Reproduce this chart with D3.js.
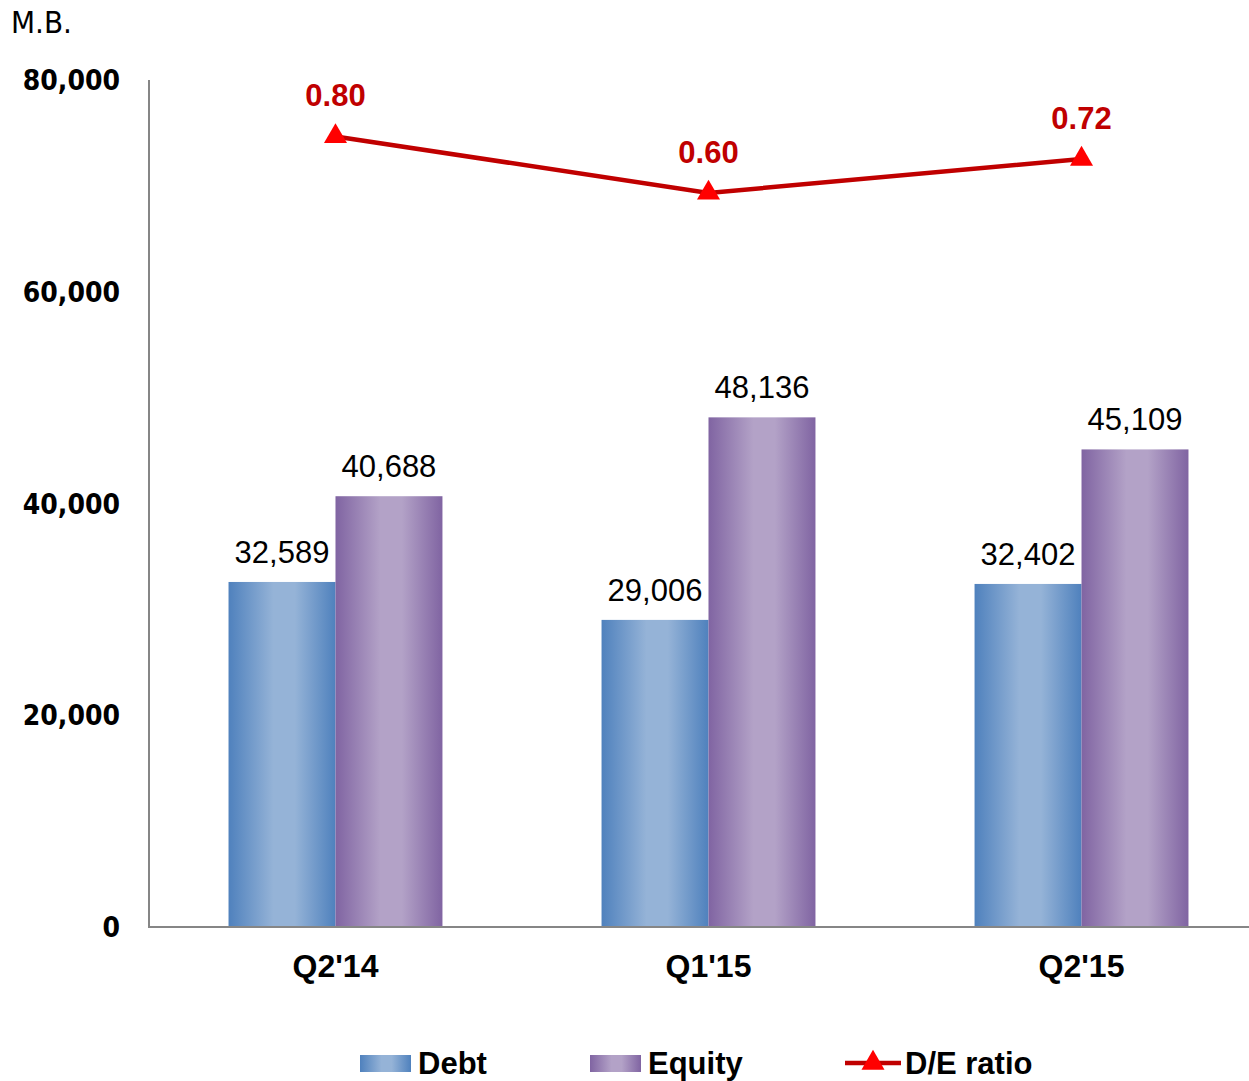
<!DOCTYPE html>
<html>
<head>
<meta charset="utf-8">
<script src="https://cdn.jsdelivr.net/npm/d3@7"></script>
<style>
  html, body { margin: 0; padding: 0; background: #fff; }
  svg { display: block; }
</style>
</head>
<body>
<svg id="chart" width="1249" height="1081"></svg>
<script>
// Quarterly debt, equity (million baht) and debt-to-equity ratio
const categories = ["Q2'14", "Q1'15", "Q2'15"];
const debt = [32589, 29006, 32402];
const equity = [40688, 48136, 45109];
const deRatio = [0.80, 0.60, 0.72];
const yTicks = [0, 20000, 40000, 60000, 80000];
const seriesNames = ["Debt", "Equity", "D/E ratio"];

const svg = d3.select("#chart");
const plot = { left: 149, top: 80, bottom: 927, step: 373 };
const condensed = "'DejaVu Sans Condensed', Tahoma, 'DejaVu Sans', sans-serif";
const arial = "'Liberation Sans', Arial, sans-serif";

const x = d3.scaleBand()
  .domain(categories)
  .range([plot.left, plot.left + plot.step * categories.length])
  .paddingInner(0.4265)
  .paddingOuter(0.2132);

const xSeries = d3.scaleBand()
  .domain(["Debt", "Equity"])
  .range([0, x.bandwidth()]);

const y = d3.scaleLinear().domain([0, 80000]).range([plot.bottom, plot.top]);
// secondary (hidden) axis for the ratio line
const y2 = d3.scaleLinear().domain([-2, 1]).range([plot.bottom, plot.top]);

// horizontal bar gradients: dark edges, light centre
const defs = svg.append("defs");
function gradient(id, dark, light) {
  const g = defs.append("linearGradient").attr("id", id)
    .attr("x1", "0%").attr("x2", "100%").attr("y1", "0%").attr("y2", "0%");
  [[0, dark], [0.42, light], [0.62, light], [1, dark]].forEach(([o, c]) =>
    g.append("stop").attr("offset", o).attr("stop-color", c));
}
gradient("gDebt", "#4f81bd", "#95b3d7");
gradient("gEquity", "#8064a2", "#b3a2c7");
const fills = { Debt: "url(#gDebt)", Equity: "url(#gEquity)" };

// y axis labels
svg.append("g").selectAll("text").data(yTicks).join("text")
  .attr("x", 120).attr("y", d => y(d))
  .attr("dy", "0.36em")
  .attr("text-anchor", "end")
  .attr("font-family", condensed)
  .attr("font-weight", "bold")
  .attr("font-size", 28)
  .attr("fill", "#000")
  .text(d => d3.format(",")(d));

// unit label
svg.append("text").attr("x", 11).attr("y", 33)
  .attr("font-family", condensed)
  .attr("font-size", 31).attr("fill", "#000").text("M.B.");

// bars
const groups = svg.append("g").selectAll("g").data(categories).join("g")
  .attr("transform", d => `translate(${x(d)},0)`);

const barData = (c, i) => [
  { key: "Debt", value: debt[i] },
  { key: "Equity", value: equity[i] }
];

groups.selectAll("rect").data(barData).join("rect")
  .attr("x", d => xSeries(d.key))
  .attr("width", xSeries.bandwidth())
  .attr("y", d => y(d.value))
  .attr("height", d => plot.bottom - y(d.value))
  .attr("fill", d => fills[d.key]);

groups.selectAll("text.val").data(barData).join("text")
  .attr("class", "val")
  .attr("x", d => xSeries(d.key) + xSeries.bandwidth() / 2)
  .attr("y", d => y(d.value) - 19)
  .attr("text-anchor", "middle")
  .attr("font-family", arial)
  .attr("font-size", 31)
  .attr("fill", "#000")
  .text(d => d3.format(",")(d.value));

// axes lines
svg.append("line")
  .attr("x1", plot.left).attr("x2", plot.left)
  .attr("y1", plot.top).attr("y2", plot.bottom + 1)
  .attr("stroke", "#868686").attr("stroke-width", 2);
svg.append("line")
  .attr("x1", plot.left - 1).attr("x2", plot.left + plot.step * categories.length)
  .attr("y1", plot.bottom).attr("y2", plot.bottom)
  .attr("stroke", "#868686").attr("stroke-width", 2);

// category labels
svg.append("g").selectAll("text").data(categories).join("text")
  .attr("x", d => x(d) + x.bandwidth() / 2)
  .attr("y", 977)
  .attr("text-anchor", "middle")
  .attr("font-family", arial)
  .attr("font-weight", "bold")
  .attr("font-size", 32)
  .attr("fill", "#000")
  .text(d => d);

// D/E ratio line
const ratioPts = categories.map((c, i) => ({ c, v: deRatio[i] }));
const cx = d => x(d.c) + x.bandwidth() / 2;
svg.append("path")
  .datum(ratioPts)
  .attr("d", d3.line().x(cx).y(d => y2(d.v)))
  .attr("fill", "none")
  .attr("stroke", "#c00000")
  .attr("stroke-width", 4.5);

const tri = d3.symbol().type(d3.symbolTriangle).size(230);
svg.append("g").selectAll("path").data(ratioPts).join("path")
  .attr("transform", d => `translate(${cx(d)},${y2(d.v)})`)
  .attr("d", tri)
  .attr("fill", "#ff0000");

svg.append("g").selectAll("text").data(ratioPts).join("text")
  .attr("x", cx)
  .attr("y", d => y2(d.v) - 30)
  .attr("text-anchor", "middle")
  .attr("font-family", arial)
  .attr("font-weight", "bold")
  .attr("font-size", 31)
  .attr("fill", "#c00000")
  .text(d => d3.format(".2f")(d.v));

// legend
const legend = svg.append("g").attr("font-family", arial)
  .attr("font-weight", "bold").attr("font-size", 31);
const legendX = [360, 590, 845];
seriesNames.forEach((name, i) => {
  const g = legend.append("g").attr("transform", `translate(${legendX[i]},0)`);
  let textX;
  if (name === "D/E ratio") {
    g.append("line").attr("x1", 0).attr("x2", 56).attr("y1", 1063).attr("y2", 1063)
      .attr("stroke", "#c00000").attr("stroke-width", 4.5);
    g.append("path").attr("transform", "translate(28,1063)").attr("d", tri).attr("fill", "#ff0000");
    textX = 60;
  } else {
    g.append("rect").attr("x", 0).attr("y", 1055).attr("width", 51).attr("height", 17)
      .attr("fill", fills[name]);
    textX = 58;
  }
  g.append("text").attr("x", textX).attr("y", 1074).attr("fill", "#000").text(name);
});
</script>
</body>
</html>
